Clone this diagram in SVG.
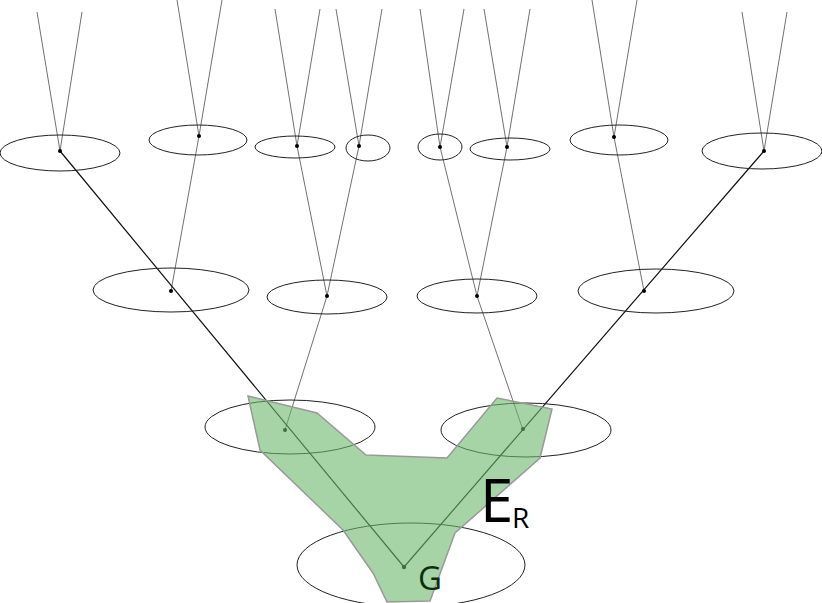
<svg xmlns="http://www.w3.org/2000/svg" width="822" height="603" viewBox="0 0 822 603">
<style>
.e{fill:none;stroke:#222;stroke-width:1}
.t{fill:none;stroke:#333;stroke-width:0.7}
.k{fill:none;stroke:#111;stroke-width:1.2}
.d{fill:#000}
text{font-family:"Open Sans","DejaVu Sans",sans-serif}
</style>
<rect width="822" height="603" fill="#fff"/>
<g id="connectors">
<path class="t" d="M37,12L60,151L82,12M177,0L199,136L222,0M275,9L297,146L320,9M336,9L359,146L382,9M420,9L440,147L464,9M484,9L507,147L530,9M592,0L614,137L637,0M742,12L764,151L787,12"/>
<path class="t" d="M199,136L171,291M297,146L327,296M359,146L327,296M440,147L477,296M507,147L477,296M614,137L644,291M327,296L285,430M477,296L523,430"/>
<path class="k" d="M60,151L404,567L764,151"/>
</g>
<g id="n1"><ellipse class="e" cx="60" cy="153" rx="60" ry="18"/><circle class="d" cx="60" cy="151" r="2"/></g>
<g id="n2"><ellipse class="e" cx="198" cy="140" rx="49" ry="15"/><circle class="d" cx="199" cy="136" r="2"/></g>
<g id="n3"><ellipse class="e" cx="295" cy="147" rx="40" ry="11" stroke="#777"/><circle class="d" cx="297" cy="146" r="2"/></g>
<g id="n4"><ellipse class="e" cx="368" cy="148" rx="22" ry="13" stroke="#999"/><circle class="d" cx="359" cy="146" r="2"/></g>
<g id="n5"><ellipse class="e" cx="440" cy="147" rx="22" ry="13" stroke="#999"/><circle class="d" cx="440" cy="147" r="2"/></g>
<g id="n6"><ellipse class="e" cx="510" cy="149" rx="40" ry="11" stroke="#777"/><circle class="d" cx="507" cy="147" r="2"/></g>
<g id="n7"><ellipse class="e" cx="619" cy="140" rx="49" ry="15"/><circle class="d" cx="614" cy="137" r="2"/></g>
<g id="n8"><ellipse class="e" cx="762" cy="151" rx="60" ry="18"/><circle class="d" cx="764" cy="151" r="2"/></g>
<g id="m1"><ellipse class="e" cx="171" cy="290" rx="78" ry="22"/><circle class="d" cx="171" cy="291" r="2"/></g>
<g id="m2"><ellipse class="e" cx="327" cy="297" rx="60" ry="17"/><circle class="d" cx="327" cy="296" r="2"/></g>
<g id="m3"><ellipse class="e" cx="477" cy="296" rx="60" ry="17"/><circle class="d" cx="477" cy="296" r="2"/></g>
<g id="m4"><ellipse class="e" cx="656" cy="291" rx="78" ry="22"/><circle class="d" cx="644" cy="291" r="2"/></g>
<g id="l1"><ellipse class="e" cx="290" cy="427" rx="85" ry="27"/><circle class="d" cx="285" cy="430" r="2"/></g>
<g id="l2"><ellipse class="e" cx="526" cy="430" rx="85" ry="27"/><circle class="d" cx="523" cy="429" r="2"/></g>
<g id="g"><ellipse class="e" cx="411" cy="565" rx="114" ry="42"/><circle class="d" cx="404" cy="567" r="2.2"/></g>
<g id="region"><polygon points="248,396 317,413 366,455 447,458 497,398 552,409 540,458 455,533 430,601 387,602 373,573 343,530 260,450" fill="#6cb86a" fill-opacity="0.6" stroke="#999" stroke-width="1.5"/></g>
<g id="labels">
<text x="418" y="590" font-size="33" fill="#0b2e0b">G</text>
<text x="480" y="522" font-size="60" fill="#000">E</text>
<text x="512" y="528" font-size="28" fill="#000">R</text>
</g>
</svg>
